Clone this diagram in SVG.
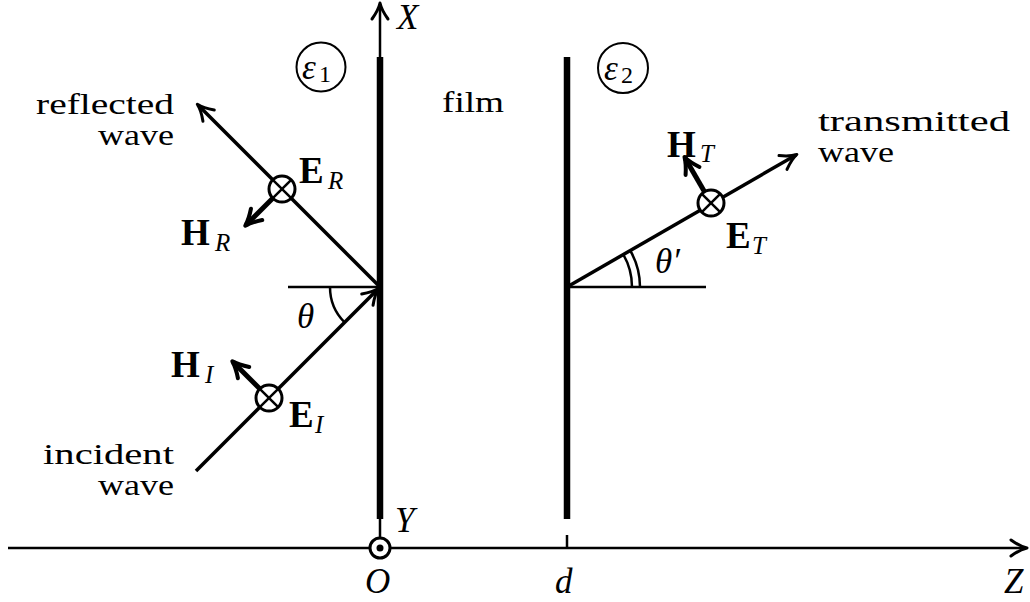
<svg xmlns="http://www.w3.org/2000/svg" width="1030" height="602" viewBox="0 0 1030 602">
<style>
  .t { font-family: "Liberation Serif", "Times New Roman", serif; font-size: 30px; fill: #000; }
  .it { font-family: "Liberation Serif", "Times New Roman", serif; font-style: italic; font-size: 35px; fill: #000; }
  .bf { font-family: "Liberation Serif", "Times New Roman", serif; font-weight: bold; font-size: 37px; fill: #000; }
  .sub { font-family: "Liberation Serif", "Times New Roman", serif; font-style: italic; font-size: 25px; fill: #000; }
  .ax { stroke: #000; stroke-width: 2.5; fill: none; }
  .ray { stroke: #000; stroke-width: 3.5; fill: none; }
  .wall { stroke: #000; stroke-width: 6.5; fill: none; }
  .hv { stroke: #000; stroke-width: 5; fill: none; }
  .otimes { stroke: #000; stroke-width: 3; fill: #fff; }
  .cross { stroke: #000; stroke-width: 2.5; }
  .eps { stroke: #000; stroke-width: 2; fill: none; }
</style>
<defs>
  <marker id="arr" markerUnits="userSpaceOnUse" markerWidth="40" markerHeight="40" viewBox="-20 -20 40 40" refX="0" refY="0" orient="auto" overflow="visible">
    <path d="M-15,-8 Q-6,-1.5 1,0 Q-6,1.5 -15,8" fill="none" stroke="#000" stroke-width="3" stroke-linecap="round" stroke-linejoin="round"/>
  </marker>
  <marker id="arrH" markerUnits="userSpaceOnUse" markerWidth="40" markerHeight="40" viewBox="-20 -20 40 40" refX="0" refY="0" orient="auto" overflow="visible">
    <path d="M-15,-8 Q-6,-2 1,0 Q-6,2 -15,8" fill="none" stroke="#000" stroke-width="4" stroke-linecap="round" stroke-linejoin="round"/>
  </marker>
</defs>

<g id="connectors">
  <line class="ax" x1="8" y1="548" x2="1026" y2="548" marker-end="url(#arr)"/>
  <line class="ax" x1="380" y1="538" x2="380" y2="4" marker-end="url(#arr)"/>
  <line class="ax" x1="567" y1="535" x2="567" y2="548"/>
  <line class="ax" x1="288" y1="287" x2="380" y2="287"/>
  <line class="ax" x1="567" y1="287" x2="706" y2="287"/>
  <line class="ray" x1="196" y1="471" x2="378" y2="289" marker-end="url(#arr)"/>
  <line class="ray" x1="380" y1="287" x2="198" y2="105" marker-end="url(#arr)"/>
  <line class="ray" x1="567" y1="287" x2="796" y2="155" marker-end="url(#arr)"/>
  <line class="hv" x1="273" y1="198" x2="246" y2="225" marker-end="url(#arrH)"/>
  <line class="hv" x1="260" y1="389" x2="233" y2="362" marker-end="url(#arrH)"/>
  <line class="hv" x1="704.5" y1="191.7" x2="685" y2="158" marker-end="url(#arrH)"/>
  <path class="ax" d="M330,287 A50,50 0 0 0 344.6,322.4"/>
  <path class="ax" d="M632,287 A65,65 0 0 0 623.3,254.5"/>
  <path class="ax" d="M640,287 A73,73 0 0 0 630.2,250.5"/>
</g>

<g id="wall-left"><line class="wall" x1="380" y1="57" x2="380" y2="519"/></g>
<g id="wall-right"><line class="wall" x1="567" y1="57" x2="567" y2="519"/></g>

<g id="origin">
  <circle cx="380" cy="548" r="10" fill="#fff" stroke="#000" stroke-width="3"/>
  <circle cx="380" cy="548" r="3.5" fill="#000"/>
</g>

<g id="ER-node">
  <circle class="otimes" cx="282" cy="189" r="13"/>
  <line class="cross" x1="272.8" y1="179.8" x2="291.2" y2="198.2"/>
  <line class="cross" x1="272.8" y1="198.2" x2="291.2" y2="179.8"/>
</g>
<g id="EI-node">
  <circle class="otimes" cx="269" cy="398" r="13"/>
  <line class="cross" x1="259.8" y1="388.8" x2="278.2" y2="407.2"/>
  <line class="cross" x1="259.8" y1="407.2" x2="278.2" y2="388.8"/>
</g>
<g id="ET-node">
  <circle class="otimes" cx="711" cy="203" r="13"/>
  <line class="cross" x1="701.8" y1="193.8" x2="720.2" y2="212.2"/>
  <line class="cross" x1="701.8" y1="212.2" x2="720.2" y2="193.8"/>
</g>

<g id="eps1">
  <circle class="eps" cx="321" cy="67" r="24.5"/>
  <text class="it" x="302" y="79" font-size="32">ε</text>
  <text x="319" y="82" font-family="Liberation Serif, serif" font-size="24">1</text>
</g>
<g id="eps2">
  <circle class="eps" cx="623" cy="68" r="25"/>
  <text class="it" x="604" y="80" font-size="32">ε</text>
  <text x="621" y="83" font-family="Liberation Serif, serif" font-size="24">2</text>
</g>

<g id="labels">
  <text class="t" x="174" y="114" text-anchor="end" textLength="138" lengthAdjust="spacingAndGlyphs">reflected</text>
  <text class="t" x="174" y="145" text-anchor="end" textLength="76" lengthAdjust="spacingAndGlyphs">wave</text>
  <text class="t" x="174" y="464" text-anchor="end" textLength="131" lengthAdjust="spacingAndGlyphs">incident</text>
  <text class="t" x="174" y="495" text-anchor="end" textLength="76" lengthAdjust="spacingAndGlyphs">wave</text>
  <text class="t" x="818" y="131" textLength="192" lengthAdjust="spacingAndGlyphs">transmitted</text>
  <text class="t" x="818" y="162" textLength="76" lengthAdjust="spacingAndGlyphs">wave</text>
  <text class="t" x="442" y="112" textLength="62" lengthAdjust="spacingAndGlyphs">film</text>

  <text class="bf" x="299" y="183">E</text><text class="sub" x="328" y="189">R</text>
  <text class="bf" x="181" y="245">H</text><text class="sub" x="215" y="251">R</text>
  <text class="bf" x="171" y="377">H</text><text class="sub" x="205" y="383">I</text>
  <text class="bf" x="289" y="427">E</text><text class="sub" x="315" y="433">I</text>
  <text class="bf" x="667" y="157">H</text><text class="sub" x="700" y="162">T</text>
  <text class="bf" x="726" y="248">E</text><text class="sub" x="752" y="254">T</text>

  <text class="it" x="297" y="328">θ</text>
  <text class="it" x="655" y="273">θ′</text>

  <text class="it" x="397" y="29">X</text>
  <text class="it" x="395" y="532">Y</text>
  <text class="it" x="365" y="593">O</text>
  <text class="it" x="555" y="593">d</text>
  <text class="it" x="1004" y="593">Z</text>
</g>
</svg>
